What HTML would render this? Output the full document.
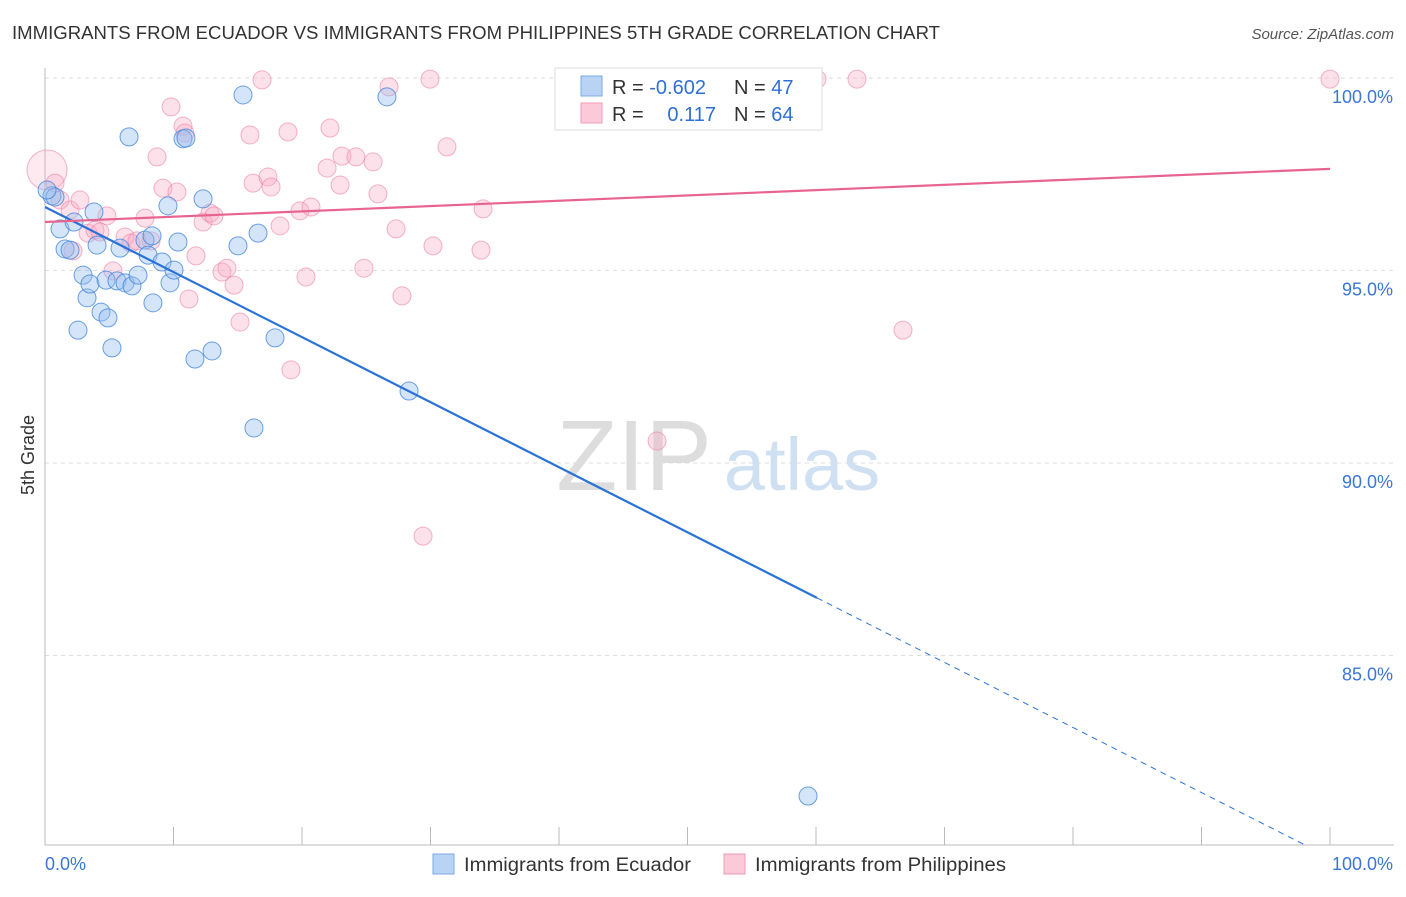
<!DOCTYPE html>
<html><head><meta charset="utf-8">
<style>
body{margin:0;background:#fff;font-family:"Liberation Sans",sans-serif;}
svg text{font-family:"Liberation Sans",sans-serif;}
</style></head>
<body>
<svg id="chart" width="1406" height="892" xmlns="http://www.w3.org/2000/svg">
<defs><clipPath id="plotclip"><rect x="45" y="60" width="1350" height="785"/></clipPath></defs>
<text x="12" y="39" font-size="18" fill="#333" textLength="928" lengthAdjust="spacingAndGlyphs">IMMIGRANTS FROM ECUADOR VS IMMIGRANTS FROM PHILIPPINES 5TH GRADE CORRELATION CHART</text>
<text x="1394" y="39" font-size="15" fill="#555" text-anchor="end" font-style="italic">Source: ZipAtlas.com</text>
<text x="34" y="455" font-size="18" fill="#333" transform="rotate(-90 34 455)" text-anchor="middle">5th Grade</text>
<g><text x="634" y="490" font-size="100" fill="#ddd" font-family="Liberation Serif" text-anchor="middle">ZIP</text><text x="802" y="490" font-size="74" fill="#cfe0f3" text-anchor="middle">atlas</text></g>
<g id="grid"></g><g id="axes"></g><g id="pts"></g><g id="lines" clip-path="url(#plotclip)"></g>
<g>
<rect x="555" y="68" width="267" height="62" fill="#fff" stroke="#ddd"/>
<rect x="581" y="76" width="21" height="20" fill="#b9d3f5" stroke="#7aa8e6"/>
<rect x="581" y="103" width="21" height="20" fill="#fbc9d8" stroke="#f09ab4"/>
<text x="612" y="94" font-size="20" fill="#333">R = <tspan fill="#2f6fd6">-0.602</tspan></text>
<text x="734" y="94" font-size="20" fill="#333">N = <tspan fill="#2f6fd6">47</tspan></text>
<text x="612" y="121" font-size="20" fill="#333">R = </text><text x="716" y="121" font-size="20" fill="#2f6fd6" text-anchor="end">0.117</text>
<text x="734" y="121" font-size="20" fill="#333">N = <tspan fill="#2f6fd6">64</tspan></text>
</g>
<g>
<rect x="433" y="854" width="21" height="20" fill="#b9d3f5" stroke="#7aa8e6"/>
<text x="464" y="871" font-size="19" fill="#333" textLength="227" lengthAdjust="spacingAndGlyphs">Immigrants from Ecuador</text>
<rect x="724" y="854" width="21" height="20" fill="#fbc9d8" stroke="#f09ab4"/>
<text x="755" y="871" font-size="19" fill="#333" textLength="251" lengthAdjust="spacingAndGlyphs">Immigrants from Philippines</text>
</g>
</svg>
<script>
const blueX=[0.54,0.78,1.17,1.56,1.95,2.26,2.57,2.96,3.27,3.50,3.81,4.05,4.36,4.75,4.90,5.21,5.60,5.84,6.23,6.54,6.77,7.24,7.78,8.02,8.33,8.40,9.11,9.57,9.73,10.04,10.35,10.74,10.97,11.67,12.30,13.0,15.02,15.41,16.26,16.58,17.9,26.61,28.33,59.38,0.16];
const blueY=[96.94,96.91,96.08,95.56,95.53,96.26,93.45,94.88,94.29,94.65,96.52,95.66,93.92,94.75,93.77,92.99,94.73,95.58,94.68,98.47,94.60,94.88,95.79,95.40,95.90,94.16,95.22,96.68,94.68,95.01,95.74,98.42,98.44,92.70,96.86,92.91,95.64,99.56,90.91,95.97,93.25,99.51,91.87,81.35,97.09];
const pinkX=[0.16,0.78,1.17,1.95,2.18,2.72,3.35,3.89,4.28,4.82,5.29,6.23,6.69,7.16,7.78,8.25,8.72,9.18,9.81,10.27,10.74,10.89,11.2,11.75,12.3,12.84,13.15,13.77,14.16,14.71,15.18,15.95,16.19,16.89,17.35,17.59,18.29,18.91,19.14,19.84,20.31,20.7,21.95,22.18,22.96,23.11,24.2,24.82,25.53,25.91,26.77,27.32,27.78,29.42,29.96,30.19,31.28,33.93,34.09,47.63,60.08,63.19,66.77,100];
const pinkY=[97.61,97.27,96.83,96.57,95.51,96.83,95.97,96.05,96.0,96.42,94.99,95.87,95.71,95.77,96.36,95.77,97.95,97.14,99.25,97.04,98.75,98.57,94.26,95.38,96.26,96.49,96.42,94.96,95.06,94.62,93.66,98.52,97.27,99.95,97.43,97.17,96.16,98.6,92.42,96.55,94.83,96.65,97.66,98.7,97.22,97.97,97.95,95.06,97.82,96.99,99.77,96.08,94.34,88.1,99.97,95.64,98.21,95.53,96.6,90.57,99.97,99.97,93.45,99.97];
const yTicks=[100,95,90,85];
const yTickLabels=["100.0%","95.0%","90.0%","85.0%"];
const xTickLabels=["0.0%","100.0%"];
const blueTrend=[96.65,-0.169];
const pinkTrend=[96.26,0.0138];
const X0=45,X1=1330,Y100=78,PXPER=38.5;
const sx=v=>X0+(X1-X0)*v/100, sy=v=>Y100+(100-v)*PXPER;
const NS="http://www.w3.org/2000/svg";
function mk(p,t,a){const e=document.createElementNS(NS,t);for(const k in a)e.setAttribute(k,a[k]);p.appendChild(e);return e;}
const grid=document.getElementById('grid'),axes=document.getElementById('axes'),pts=document.getElementById('pts'),lines=document.getElementById('lines');
yTicks.forEach((t,i)=>{
 const g=mk(grid,'line',{x1:45,x2:1394,y1:sy(t),y2:sy(t),stroke:'#ddd','stroke-dasharray':'4,4'});
 
 
 const l=mk(axes,'text',{x:1393,y:sy(t)+25,'font-size':18,fill:'#3b76d6','text-anchor':'end'});
 l.textContent=yTickLabels[i];
 
 
});
const ya=mk(axes,'line',{x1:45,x2:45,y1:68,y2:845,stroke:'#bbb'});


const xa=mk(axes,'line',{x1:45,x2:1394,y1:845,y2:845,stroke:'#bbb'});


for(let i=0;i<=10;i++){const tk=mk(axes,'line',{x1:sx(i*10),x2:sx(i*10),y1:827,y2:845,stroke:'#bbb'});
 
 }
const xl0=mk(axes,'text',{x:45,y:870,'font-size':18,fill:'#3b76d6'});xl0.textContent=xTickLabels[0];


const xl1=mk(axes,'text',{x:1393,y:870,'font-size':18,fill:'#3b76d6','text-anchor':'end'});xl1.textContent=xTickLabels[1];


pinkX.forEach((x,i)=>{const c=mk(pts,'circle',{cx:sx(x),cy:sy(pinkY[i]),r:i==0?20:9,fill:i==0?'rgba(248,170,195,0.25)':'rgba(248,170,195,0.35)',stroke:'rgba(236,130,165,0.6)','stroke-width':1});
 
 });
blueX.forEach((x,i)=>{const c=mk(pts,'circle',{cx:sx(x),cy:sy(blueY[i]),r:9,fill:'rgba(150,190,240,0.4)',stroke:'rgba(60,130,220,0.75)','stroke-width':1});
 
 });
const bAt=x=>blueTrend[0]+blueTrend[1]*x, pAt=x=>pinkTrend[0]+pinkTrend[1]*x;
const bl=mk(lines,'line',{x1:sx(0),y1:sy(bAt(0)),x2:sx(60.08),y2:sy(bAt(60.08)),stroke:'#2a72d8','stroke-width':2.2});


const bd=mk(lines,'line',{x1:sx(60.08),y1:sy(bAt(60.08)),x2:sx(100),y2:sy(bAt(100)),stroke:'#2a72d8','stroke-width':1,'stroke-dasharray':'6,5'});


const pl=mk(lines,'line',{x1:sx(0),y1:sy(pAt(0)),x2:sx(100),y2:sy(pAt(100)),stroke:'#e8648e','stroke-width':2.2});


</script>
</body></html>
